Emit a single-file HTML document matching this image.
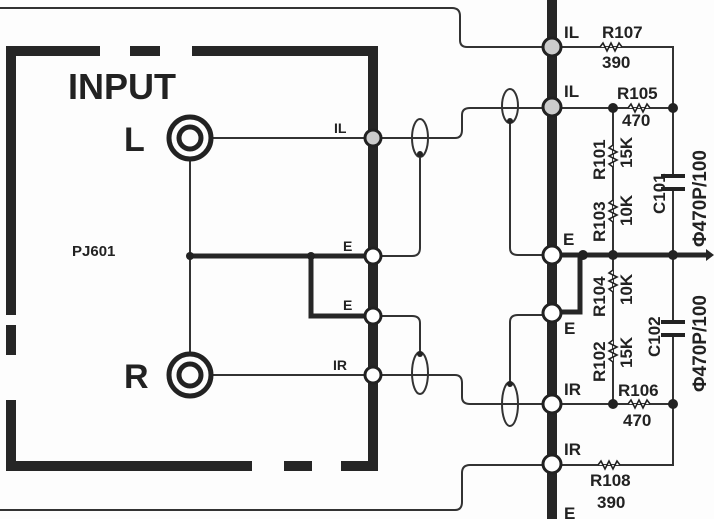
<!DOCTYPE html>
<html><head><meta charset="utf-8"><style>
html,body{margin:0;padding:0;background:#fff;}
svg{display:block;}
text{font-family:"Liberation Sans",sans-serif;font-weight:bold;fill:#222;}
</style></head><body>
<svg width="714" height="519" viewBox="0 0 714 519" xmlns="http://www.w3.org/2000/svg">
<rect width="714" height="519" fill="#fdfdfd"/>
<g stroke="#262626" stroke-width="10" fill="none" stroke-linecap="butt">
<line x1="6" y1="51" x2="100" y2="51"/>
<line x1="130" y1="51" x2="160" y2="51"/>
<line x1="192" y1="51" x2="378" y2="51"/>
<line x1="373" y1="46" x2="373" y2="471"/>
<line x1="6" y1="466" x2="252" y2="466"/>
<line x1="284" y1="466" x2="312" y2="466"/>
<line x1="341" y1="466" x2="378" y2="466"/>
<line x1="11" y1="46" x2="11" y2="315"/>
<line x1="11" y1="325" x2="11" y2="355"/>
<line x1="11" y1="400" x2="11" y2="471"/>
<line x1="552" y1="0" x2="552" y2="519"/>
</g>
<g stroke="#262626" stroke-width="5" fill="none">
<polyline points="190,256 373,256"/>
<polyline points="311,256 311,316 373,316"/>
<polyline points="552,255 710,255"/>
<polyline points="552,255 580,255 580,312 552,312"/>
</g>
<polygon points="706,249 714,255 706,261" fill="#262626"/>
<g stroke="#333" stroke-width="2" fill="none">
<path d="M0,8 H452 Q460,8 460,16 V40 Q460,47 467,47 H552"/>
<path d="M190,138 H455 Q462,138 462,130 V115 Q462,108 470,108 H673"/>
<path d="M190,375 H455 Q462,375 462,383 V397 Q462,404 470,404 H673"/>
<path d="M0,510 H455 Q462,510 462,502 V473 Q462,465 470,465 H673 V404"/>
<path d="M552,47 H673 V108"/>
<line x1="190" y1="160" x2="190" y2="353"/>
<ellipse cx="420" cy="138" rx="8" ry="19"/>
<path d="M420,157 V248 Q420,256 412,256 H373"/>
<ellipse cx="420" cy="373" rx="8" ry="21"/>
<path d="M420,352 V323 Q420,316 412,316 H373"/>
<ellipse cx="510" cy="106" rx="8" ry="17"/>
<path d="M510,123 V248 Q510,255 518,255 H552"/>
<ellipse cx="510" cy="404" rx="8" ry="22"/>
<path d="M510,382 V322 Q510,315 518,315 H552"/>
<line x1="613" y1="108" x2="613" y2="404"/>
<line x1="673" y1="108" x2="673" y2="176"/>
<line x1="673" y1="189" x2="673" y2="322"/>
<line x1="673" y1="335" x2="673" y2="404"/>
</g>
<g stroke="#222" stroke-width="1.6" fill="#fdfdfd">
<polyline points="600,47 603,43 607,51 611,43 615,51 619,43 622,47"/>
<polyline points="628,108 631,104 635,112 639,104 643,112 647,104 650,108"/>
<polyline points="628,404 631,400 635,408 639,400 643,408 647,400 650,404"/>
<polyline points="598,465 601,461 605,469 609,461 613,469 617,461 620,465"/>
<polyline points="613,145 609,148 617,152 609,156 617,160 609,164 613,167"/>
<polyline points="613,200 609,203 617,207 609,211 617,215 609,219 613,222"/>
<polyline points="613,270 609,273 617,277 609,281 617,285 609,289 613,292"/>
<polyline points="613,340 609,343 617,347 609,351 617,355 609,359 613,362"/>
</g>
<g stroke="#222" stroke-width="4">
<line x1="661" y1="176" x2="685" y2="176"/><line x1="661" y1="189" x2="685" y2="189"/>
<line x1="661" y1="322" x2="685" y2="322"/><line x1="661" y1="335" x2="685" y2="335"/>
</g>
<g fill="#222">
<circle cx="190" cy="256" r="4"/><circle cx="311" cy="256" r="4"/>
<circle cx="613" cy="108" r="5"/><circle cx="673" cy="108" r="5"/>
<circle cx="583" cy="255" r="5"/><circle cx="613" cy="255" r="5"/><circle cx="673" cy="255" r="5"/>
<circle cx="613" cy="404" r="5"/><circle cx="673" cy="404" r="5"/>
<circle cx="420" cy="154" r="3"/><circle cx="420" cy="354" r="3"/>
<circle cx="510" cy="121" r="3"/><circle cx="510" cy="384" r="3"/>
</g>
<g stroke="#222" stroke-width="5" fill="#fdfdfd">
<circle cx="190" cy="138" r="21"/><circle cx="190" cy="138" r="11"/>
<circle cx="190" cy="375" r="21"/><circle cx="190" cy="375" r="11"/>
</g>
<g stroke="#222" stroke-width="3" fill="#fff">
<circle cx="373" cy="138" r="8" fill="#ccc"/><circle cx="373" cy="256" r="8"/>
<circle cx="373" cy="316" r="8"/><circle cx="373" cy="375" r="8"/>
<circle cx="552" cy="47" r="9" fill="#ccc"/><circle cx="552" cy="107" r="9" fill="#ccc"/>
<circle cx="552" cy="255" r="9"/><circle cx="552" cy="313" r="9"/>
<circle cx="552" cy="404" r="9"/><circle cx="552" cy="464" r="9"/>
</g>
<text x="68" y="99" font-size="36">INPUT</text>
<text x="124" y="151" font-size="34">L</text>
<text x="124" y="388" font-size="34">R</text>
<text x="72" y="256" font-size="15" font-weight="normal">PJ601</text>
<text x="334" y="133" font-size="14">IL</text>
<text x="343" y="251" font-size="14">E</text>
<text x="343" y="310" font-size="14">E</text>
<text x="333" y="370" font-size="14">IR</text>
<g font-size="17">
<text x="564" y="38">IL</text><text x="602" y="38">R107</text><text x="602" y="68">390</text>
<text x="564" y="97">IL</text><text x="617" y="99">R105</text><text x="622" y="126">470</text>
<text x="563" y="245">E</text><text x="564" y="334">E</text>
<text x="564" y="395">IR</text><text x="618" y="396">R106</text><text x="623" y="426">470</text>
<text x="564" y="455">IR</text><text x="590" y="486">R108</text><text x="597" y="508">390</text>
<text x="564" y="519">E</text>
</g>
<g font-size="17">
<text transform="translate(605,180) rotate(-90)">R101</text>
<text transform="translate(632,168) rotate(-90)">15K</text>
<text transform="translate(605,242) rotate(-90)">R103</text>
<text transform="translate(632,226) rotate(-90)">10K</text>
<text transform="translate(665,214) rotate(-90)">C101</text>
<text transform="translate(706,247) rotate(-90)" font-size="19">Φ470P/100</text>
<text transform="translate(605,317) rotate(-90)">R104</text>
<text transform="translate(632,305) rotate(-90)">10K</text>
<text transform="translate(605,382) rotate(-90)">R102</text>
<text transform="translate(632,368) rotate(-90)">15K</text>
<text transform="translate(660,357) rotate(-90)">C102</text>
<text transform="translate(706,392) rotate(-90)" font-size="19">Φ470P/100</text>
</g>
</svg>
</body></html>
